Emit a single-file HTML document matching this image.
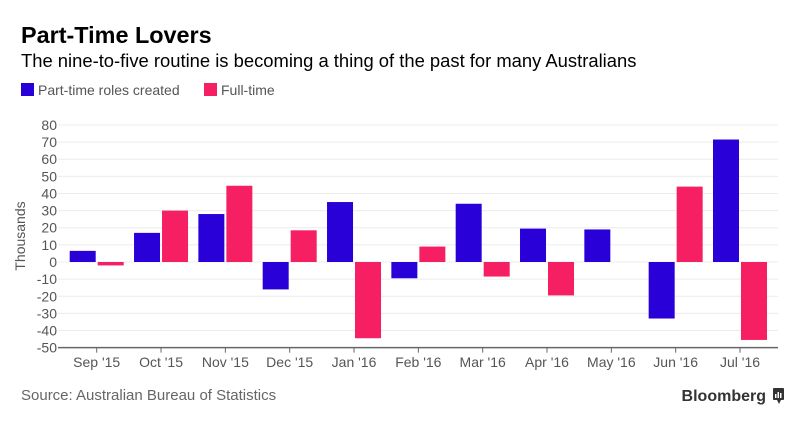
<!DOCTYPE html>
<html><head><meta charset="utf-8"><style>
body{margin:0;background:#fff;font-family:"Liberation Sans",sans-serif;}
svg text{font-family:"Liberation Sans",sans-serif;}
</style></head><body>
<svg width="805" height="425" id="c">
<text x="21" y="43" font-size="23.4" font-weight="bold" fill="#000">Part-Time Lovers</text>
<text x="21" y="67" font-size="18.4" fill="#000">The nine-to-five routine is becoming a thing of the past for many Australians</text>
<rect x="21" y="83" width="13" height="13" fill="#2a00d8"/>
<text x="38" y="95" font-size="14" fill="#555">Part-time roles created</text>
<rect x="204" y="83" width="13" height="13" fill="#f71f63"/>
<text x="221" y="95" font-size="14" fill="#555">Full-time</text>
<text x="21" y="400" font-size="15" fill="#666">Source: Australian Bureau of Statistics</text>
<text x="766" y="401" font-size="16" font-weight="bold" fill="#333" text-anchor="end">Bloomberg</text>
<g><rect x="773" y="388" width="11" height="12" rx="1" fill="#333"/><path d="M777 400 L779 404 L781 400Z" fill="#333"/><rect x="775" y="394" width="1.5" height="4" fill="#fff"/><rect x="777.5" y="392" width="1.5" height="6" fill="#fff"/><rect x="780" y="393" width="1.5" height="5" fill="#fff"/></g>
<text transform="translate(25,236) rotate(-90)" font-size="14" fill="#555" text-anchor="middle">Thousands</text>
<g id="plot"></g>
</svg>
<script>
const categories=["Sep '15","Oct '15","Nov '15","Dec '15","Jan '16","Feb '16","Mar '16","Apr '16","May '16","Jun '16","Jul '16"];
const partTime=[6.5,17,28,-16,35,-9.5,34,19.5,19,-33,71.5];
const fullTime=[-2,30,44.5,18.5,-44.5,9,-8.5,-19.5,0,44,-45.5];
const yTicks=[80,70,60,50,40,30,20,10,0,-10,-20,-30,-40,-50];
const NS="http://www.w3.org/2000/svg";
const g=document.getElementById('plot');
const yScale=v=>262-(v*222.7/130);
const xScale=i=>96.7+i*64.33;
function mk(t,a){const e=document.createElementNS(NS,t);for(const k in a)e.setAttribute(k,a[k]);g.appendChild(e);return e;}
yTicks.forEach(v=>{
  const y=yScale(v);
  if(v!==-50){const l=mk('line',{x1:58,x2:778,y1:y,y2:y,stroke:'#ececec','stroke-width':1});
  
  }
  const t=mk('text',{x:57,y:y+5,'font-size':14,fill:'#555','text-anchor':'end'});
  t.textContent=v;
  
  
});
const ax=mk('line',{x1:58,x2:778,y1:yScale(-50),y2:yScale(-50),stroke:'#666','stroke-width':1.5});


categories.forEach((c,i)=>{
  const x=xScale(i);
  const tk=mk('line',{x1:x,x2:x,y1:yScale(-50),y2:yScale(-50)+5,stroke:'#666'});
  
  
  const t=mk('text',{x:x,y:367,'font-size':14,fill:'#555','text-anchor':'middle'});
  t.textContent=c;
  
  
  const v1=partTime[i],v2=fullTime[i];
  if(v1!==0){const b=mk('rect',{x:x-27,width:26,y:Math.min(yScale(v1),yScale(0)),height:Math.abs(yScale(v1)-yScale(0)),fill:'#2a00d8'});
  
  }
  if(v2!==0){const b=mk('rect',{x:x+1,width:26,y:Math.min(yScale(v2),yScale(0)),height:Math.abs(yScale(v2)-yScale(0)),fill:'#f71f63'});
  
  }
});
</script>
</body></html>
